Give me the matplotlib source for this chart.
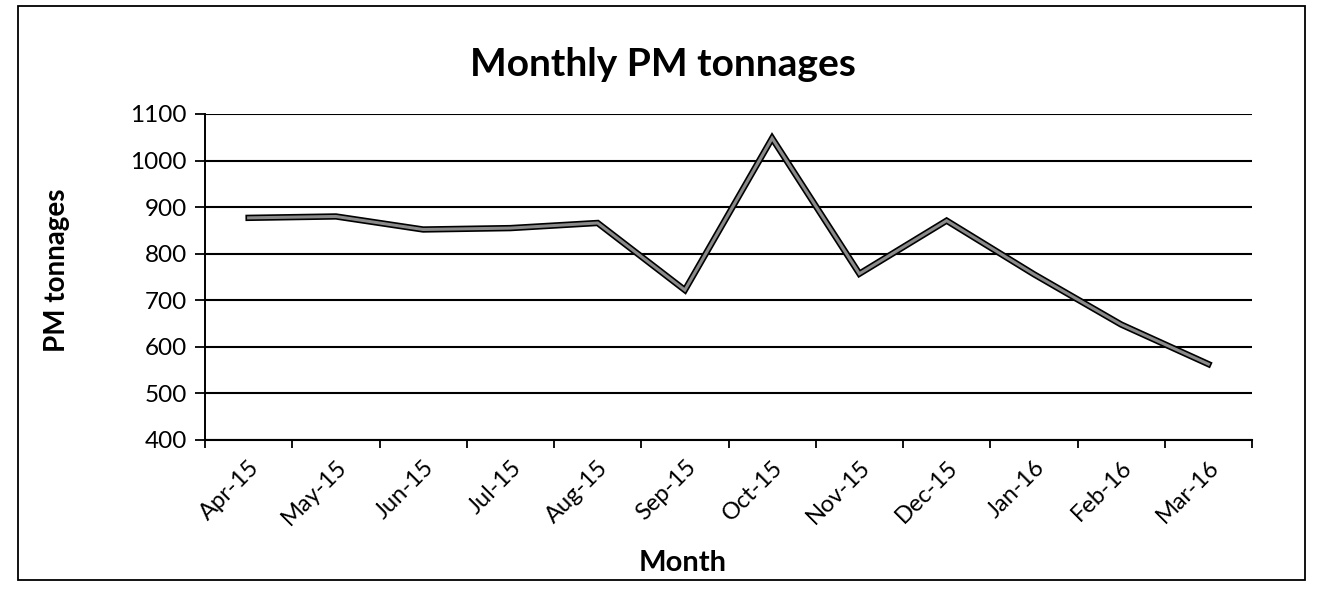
import matplotlib
matplotlib.use("Agg")
import matplotlib.pyplot as plt
from matplotlib.patches import Rectangle

months = ["Apr-15", "May-15", "Jun-15", "Jul-15", "Aug-15", "Sep-15",
          "Oct-15", "Nov-15", "Dec-15", "Jan-16", "Feb-16", "Mar-16"]
tonnages = [877, 880, 852, 855, 866, 722, 1048, 757, 871, 756, 648, 563]
y_ticks = [400, 500, 600, 700, 800, 900, 1000, 1100]

plt.rcParams['font.family'] = ['Lato', 'DejaVu Sans']

W, H = 1317, 590
fig = plt.figure(figsize=(W / 100, H / 100), dpi=100)
left, right, top, bottom = 205, 1252, 114, 440
ax = fig.add_axes([left / W, 1 - bottom / H, (right - left) / W, (bottom - top) / H])

x = list(range(len(months)))
ax.plot(x, tonnages, color='black', lw=4.6, solid_joinstyle='miter', zorder=3)
ax.plot(x, tonnages, color='#8a8a8a', lw=2.2, solid_joinstyle='miter', zorder=4)

ax.set_xlim(-0.5, len(months) - 0.5)
ax.set_ylim(400, 1100)
ax.set_yticks(y_ticks)
ax.set_yticklabels([str(v) for v in y_ticks], fontsize=17.5)
ax.set_xticks(x)
ax.set_xticklabels(months, fontsize=17, rotation=45, ha='right', rotation_mode='anchor')
ax.set_xticks([i - 0.5 for i in range(len(months) + 1)], minor=True)
ax.tick_params(axis='x', which='major', length=0, pad=12)
ax.tick_params(axis='x', which='minor', length=6, width=1.3, direction='out', color='black')
ax.tick_params(axis='y', length=7, width=1.3, direction='out', pad=6)

ax.grid(axis='y', color='black', lw=1.5)
ax.set_axisbelow(True)
for s in ['top', 'right']:
    ax.spines[s].set_visible(False)
ax.spines['left'].set_linewidth(1.4)
ax.spines['bottom'].set_linewidth(1.5)

fig.text(663 / W, 1 - 64 / H, "Monthly PM tonnages", fontsize=28, fontweight='bold',
         ha='center', va='center')
fig.text(683 / W, 1 - 563 / H, "Month", fontsize=21, fontweight='bold',
         ha='center', va='center')
fig.text(57 / W, 1 - 270 / H, "PM tonnages", fontsize=20, fontweight='bold',
         ha='center', va='center', rotation=90)

fig.patches.append(Rectangle((18 / W, 1 - 580 / H), (1305 - 18) / W, (580 - 6) / H,
                             transform=fig.transFigure, fill=False, ec='black', lw=1.3))

fig.savefig("out.png", dpi=100, facecolor='white')
